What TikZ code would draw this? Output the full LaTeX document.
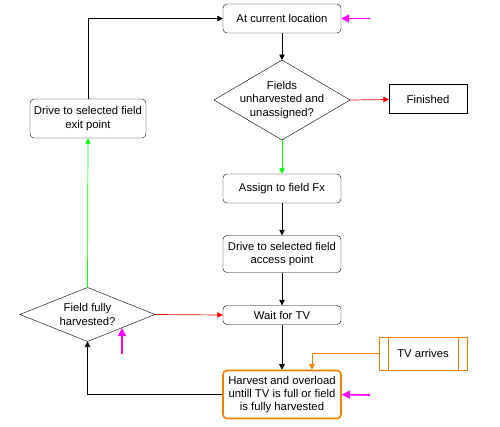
\documentclass[tikz,border=0pt]{standalone}
\usepackage{fontspec}
\setmainfont{Liberation Sans}
\usetikzlibrary{shapes.geometric,arrows.meta}
\definecolor{myorange}{HTML}{F08000}
\definecolor{mymag}{HTML}{FF00FF}
\definecolor{myred}{HTML}{FF0000}
\definecolor{mygreen}{HTML}{00FF00}
\begin{document}
\begin{tikzpicture}[x=1pt,y=-1pt,
  every node/.style={font=\fontsize{11.3}{13.3}\selectfont, align=center, inner sep=0pt},
  rbox/.style={draw, rounded corners=4pt, minimum width=118pt, minimum height=29pt},
  sbox/.style={draw, minimum width=78pt, minimum height=29pt},
  dia/.style={draw, diamond, inner sep=0pt, outer sep=0pt},
  arr/.style={-{Triangle[length=5.5pt,width=5.5pt]}, line width=0.7pt},
  marr/.style={-{Triangle[length=8pt,width=8pt]}, line width=1.6pt, mymag}]
\useasboundingbox (0,0) rectangle (500,426);
\node[rbox] (cur) at (282,18.5) {At current location};
\node[dia, minimum width=136pt, minimum height=80pt] (fq) at (282,100) {};
\node (fqt) at (282,100) {Fields\\unharvested and\\unassigned?};
\node[sbox] (fin) at (428,99) {Finished};
\node[rbox] (asg) at (282,188.5) {Assign to field Fx};
\node[rbox, minimum height=37pt] (acc) at (282,254) {Drive to selected field\\access point};
\node[rbox, minimum height=19pt] (wait) at (282,315) {Wait for TV};
\node[rbox, draw=myorange, line width=1.6pt, minimum height=48pt] (harv) at (282,394.5) {Harvest and overload\\untill TV is full or field\\is fully harvested};
\node[dia, minimum width=135pt, minimum height=54pt] (ffh) at (87.5,314.5) {};
\node (ffht) at (87.5,314.5) {Field fully\\harvested?};
\node[rbox, minimum width=116pt, minimum height=39pt] (exit) at (88,118.5) {Drive to selected field\\exit point};
\node[draw=myorange, minimum width=88pt, minimum height=33pt] (tv) at (423,353.5) {TV arrives};
\draw[myorange] ([xshift=9pt]tv.north west) -- ([xshift=9pt]tv.south west)
  ([xshift=-9pt]tv.north east) -- ([xshift=-9pt]tv.south east);
\coordinate (m1) at (370,18.5);
\coordinate (m2) at (370,395);
\coordinate (m3) at (122,354);
% connectors
\draw[arr] (cur) -- (fq.north);
\draw[arr, myred] (fq.east) -- (fin);
\draw[arr, mygreen] (fq.south) -- (asg);
\draw[arr] (asg) -- (acc);
\draw[arr] (acc) -- (wait);
\draw[arr] (wait) -- (harv);
\draw[arr] (harv.west) -| (ffh.south);
\draw[arr, myred] (ffh.east) -- (wait.west);
\draw[arr, mygreen] (ffh.north) -- (exit.south);
\draw[arr] (exit.north) |- (cur.west);
\draw[arr, myorange] (tv.west) -| ([xshift=30pt]harv.north);
\draw[marr] (m1) -- (cur.east);
\draw[marr] (m2) -- (harv.east);
\draw[marr] (m3) -- (122,328);
\end{tikzpicture}
\end{document}
